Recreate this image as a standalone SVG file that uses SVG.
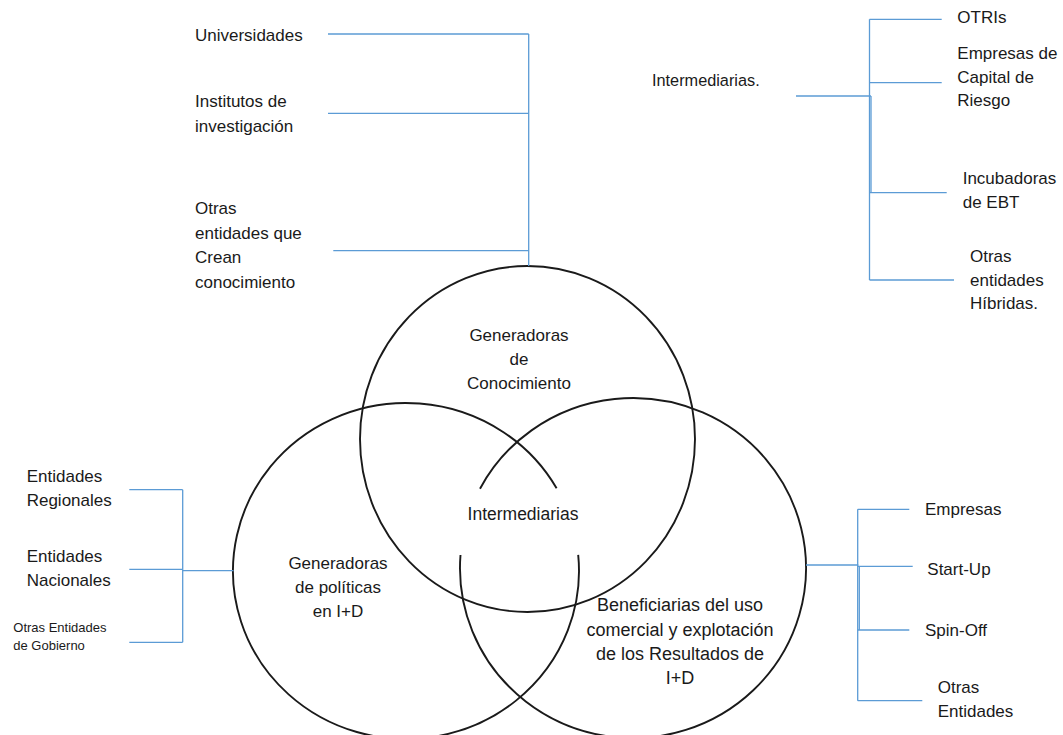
<svg xmlns="http://www.w3.org/2000/svg" width="1063" height="735" viewBox="0 0 1063 735">
<style>
text{font-family:"Liberation Sans",Arial,sans-serif;font-size:17px;fill:#1a1a1a}
.c{text-anchor:middle}
.s{font-size:13px}
.b{font-size:18px}
.circ{fill:none;stroke:#1a1a1a;stroke-width:1.9}
.con line{stroke:#5b9bd5;stroke-width:1.3}
</style>
<rect width="1063" height="735" fill="#fff"/>
<g id="circles">
<g id="node-conocimiento">
<ellipse class="circ" cx="527.5" cy="439" rx="167.5" ry="173"/>
<text class="c" x="519" y="340.5">Generadoras</text>
<text class="c" x="519" y="365">de</text>
<text class="c" x="519" y="389">Conocimiento</text>
</g>
<g id="node-politicas">
<path class="circ" d="M578.2 554.9 A173 168 0 1 1 556.6 488.3"/>
<text class="c" x="338" y="569">Generadoras</text>
<text class="c" x="338" y="593">de políticas</text>
<text class="c" x="338" y="617">en I+D</text>
</g>
<g id="node-beneficiarias">
<path class="circ" d="M480 488.7 A173 170 0 1 1 460.5 555"/>
<text class="c b" x="680" y="611">Beneficiarias del uso</text>
<text class="c b" x="680" y="636">comercial y explotación</text>
<text class="c b" x="680" y="660">de los Resultados de</text>
<text class="c b" x="680" y="684">I+D</text>
</g>
<g id="node-intermediarias-centro">
<text class="c" x="523" y="520" style="font-size:17.5px">Intermediarias</text>
</g>
</g>
<g id="connectors" class="con">
<line x1="528.7" y1="34" x2="528.7" y2="266"/>
<line x1="328" y1="34" x2="528.7" y2="34"/>
<line x1="328" y1="113.3" x2="528.7" y2="113.3"/>
<line x1="333.3" y1="250.7" x2="528.7" y2="250.7"/>
<line x1="869.5" y1="19.3" x2="869.5" y2="280"/>
<line x1="871" y1="96" x2="871" y2="192.7"/>
<line x1="869.5" y1="19.3" x2="941.7" y2="19.3"/>
<line x1="869.5" y1="82.7" x2="941.7" y2="82.7"/>
<line x1="796" y1="96" x2="871" y2="96"/>
<line x1="869.5" y1="192.7" x2="946.7" y2="192.7"/>
<line x1="869.5" y1="280" x2="954" y2="280"/>
<line x1="182.7" y1="489.7" x2="182.7" y2="642.3"/>
<line x1="129.3" y1="489.7" x2="182.7" y2="489.7"/>
<line x1="129.3" y1="569.3" x2="182.7" y2="569.3"/>
<line x1="182.7" y1="570.7" x2="233.5" y2="570.7"/>
<line x1="129.3" y1="642.3" x2="182.7" y2="642.3"/>
<line x1="806" y1="565" x2="858.3" y2="565"/>
<line x1="857.7" y1="509.3" x2="857.7" y2="700.7"/>
<line x1="859.3" y1="566.3" x2="859.3" y2="630"/>
<line x1="857.7" y1="509.3" x2="909.3" y2="509.3"/>
<line x1="857.7" y1="566.3" x2="912.7" y2="566.3"/>
<line x1="857.7" y1="630" x2="909.3" y2="630"/>
<line x1="857.7" y1="700.7" x2="922.3" y2="700.7"/>
</g>
<g id="node-universidades"><text x="195" y="40.5">Universidades</text></g>
<g id="node-institutos"><text x="195" y="107.3">Institutos de</text><text x="195" y="131.7">investigación</text></g>
<g id="node-otras-crean"><text x="195" y="214">Otras</text><text x="195" y="238.7">entidades que</text><text x="195" y="263.3">Crean</text><text x="195" y="287.7">conocimiento</text></g>
<g id="node-intermediarias"><text x="652" y="86" style="font-size:16.3px">Intermediarias.</text></g>
<g id="node-otris"><text x="957.3" y="22.7">OTRIs</text></g>
<g id="node-capital"><text x="957.3" y="59.3">Empresas de</text><text x="957.3" y="82.7">Capital de</text><text x="957.3" y="106">Riesgo</text></g>
<g id="node-incubadoras"><text x="962.7" y="184">Incubadoras</text><text x="962.7" y="208.3">de EBT</text></g>
<g id="node-hibridas"><text x="970" y="261.7">Otras</text><text x="970" y="286">entidades</text><text x="970" y="309.3">Híbridas.</text></g>
<g id="node-regionales"><text x="26.7" y="481.7">Entidades</text><text x="26.7" y="505.7">Regionales</text></g>
<g id="node-nacionales"><text x="26.7" y="561.7">Entidades</text><text x="26.7" y="585.7">Nacionales</text></g>
<g id="node-gobierno"><text class="s" x="13.3" y="631.7">Otras Entidades</text><text class="s" x="13.3" y="650">de Gobierno</text></g>
<g id="node-empresas"><text x="925" y="515">Empresas</text></g>
<g id="node-startup"><text x="927.3" y="575">Start-Up</text></g>
<g id="node-spinoff"><text x="925" y="636">Spin-Off</text></g>
<g id="node-otras-entidades"><text x="937.7" y="693.3">Otras</text><text x="937.7" y="716.7">Entidades</text></g>
</svg>
